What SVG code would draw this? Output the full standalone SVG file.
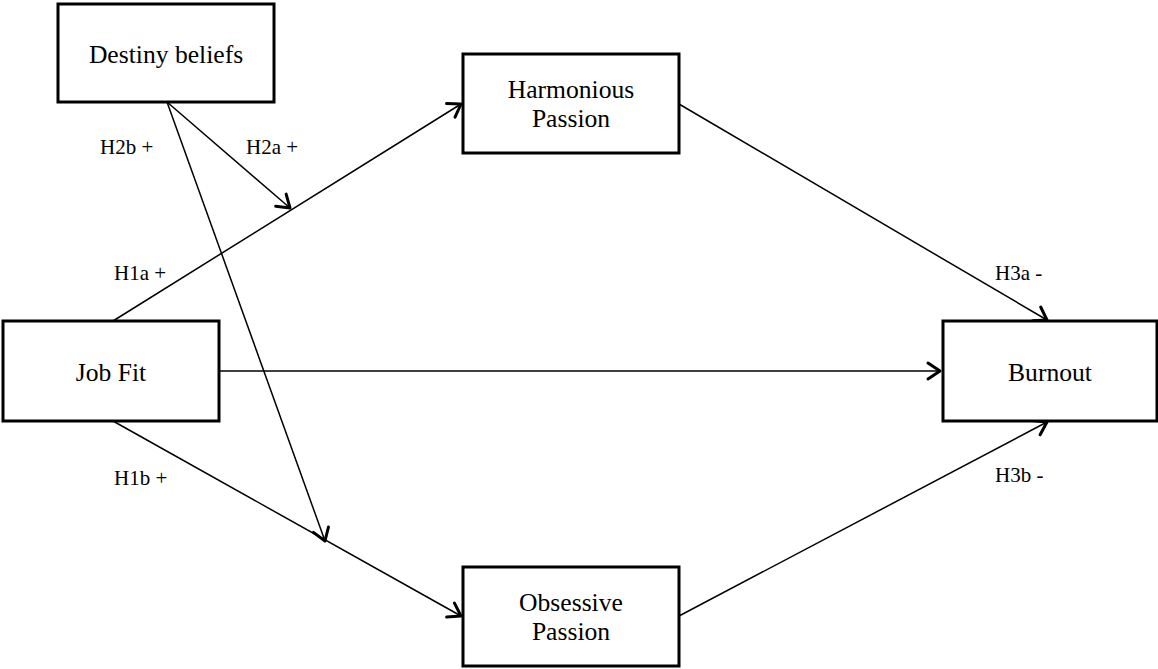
<svg xmlns="http://www.w3.org/2000/svg" width="1158" height="669" viewBox="0 0 1158 669">
<style>
.box{fill:#fff;stroke:#000;stroke-width:3}
.nt{font-family:"Liberation Serif","Times New Roman",serif;font-size:25.6px;fill:#000;text-anchor:middle}
.lb{font-family:"Liberation Serif","Times New Roman",serif;font-size:21px;fill:#000}
.ln{stroke:#000;stroke-width:1.5;fill:none;marker-end:url(#ah)}
</style>
<defs>
<marker id="ah" markerUnits="userSpaceOnUse" markerWidth="30" markerHeight="30" viewBox="-20 -15 30 30" refX="0" refY="0" orient="auto">
<path d="M-12,-8 L0,0 L-12,8" fill="none" stroke="#000" stroke-width="3" stroke-linecap="round" stroke-linejoin="round"/>
</marker>
</defs>
<rect width="1158" height="669" fill="#fff"/>
<g id="connectors">
<line class="ln" x1="167" y1="102" x2="290" y2="208"/>
<line class="ln" x1="167" y1="102" x2="325" y2="541"/>
<line class="ln" x1="113" y1="321" x2="461" y2="104"/>
<line class="ln" x1="113" y1="421" x2="461" y2="616"/>
<line class="ln" x1="219" y1="371" x2="940" y2="371"/>
<line class="ln" x1="679" y1="104" x2="1047" y2="320"/>
<line class="ln" x1="679" y1="616" x2="1047" y2="422"/>
</g>
<g id="destiny">
<rect class="box" x="58" y="4" width="216" height="98"/>
<text class="nt" x="166" y="63">Destiny beliefs</text>
</g>
<g id="harmonious">
<rect class="box" x="463" y="54" width="216" height="99"/>
<text class="nt" x="571" y="98">Harmonious</text>
<text class="nt" x="571" y="127">Passion</text>
</g>
<g id="jobfit">
<rect class="box" x="3" y="321" width="216" height="100"/>
<text class="nt" x="111" y="381">Job Fit</text>
</g>
<g id="burnout">
<rect class="box" x="943" y="321" width="214" height="100"/>
<text class="nt" x="1050" y="381">Burnout</text>
</g>
<g id="obsessive">
<rect class="box" x="463" y="567" width="216" height="99"/>
<text class="nt" x="571" y="611">Obsessive</text>
<text class="nt" x="571" y="640">Passion</text>
</g>
<g id="labels">
<text class="lb" x="100" y="154">H2b +</text>
<text class="lb" x="246" y="154">H2a +</text>
<text class="lb" x="114" y="280">H1a +</text>
<text class="lb" x="114" y="485">H1b +</text>
<text class="lb" x="995" y="280">H3a -</text>
<text class="lb" x="995" y="482">H3b -</text>
</g>
</svg>
